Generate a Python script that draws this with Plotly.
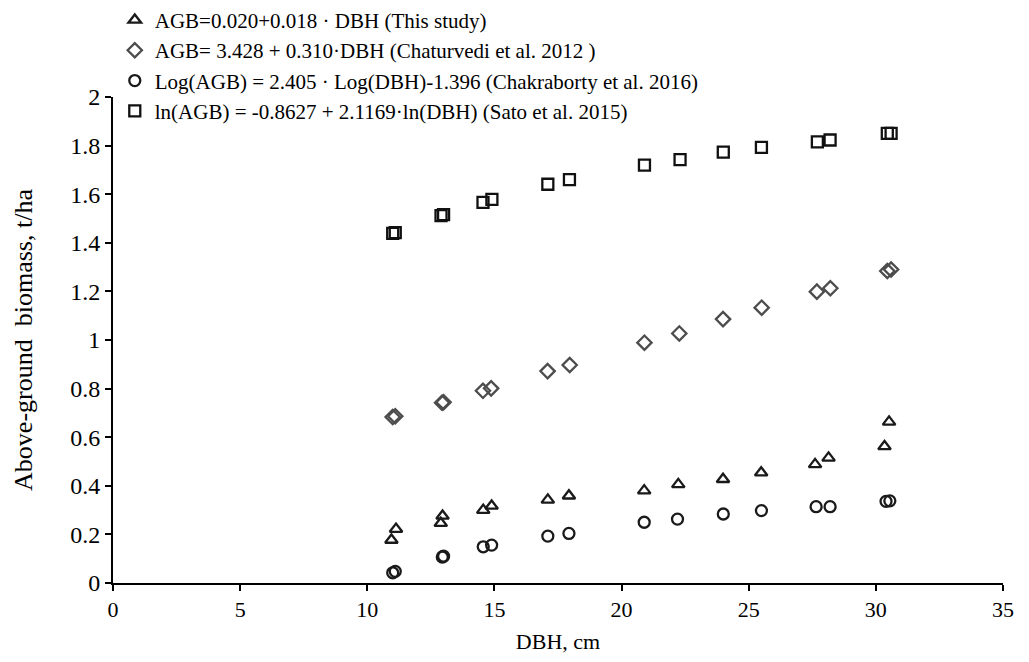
import plotly.graph_objects as go

tri_x = [10.95, 11.13, 12.89, 12.96, 14.56, 14.89, 17.1, 17.93, 20.89, 22.23, 23.99, 25.49, 27.61, 28.14, 30.34, 30.52]
tri_y = [0.177, 0.222, 0.246, 0.276, 0.300, 0.317, 0.342, 0.359, 0.380, 0.406, 0.427, 0.454, 0.488, 0.515, 0.562, 0.663]

dia_x = [11.0, 11.1, 12.94, 13.0, 14.55, 14.87, 17.09, 17.96, 20.9, 22.27, 23.99, 25.51, 27.68, 28.21, 30.45, 30.6]
dia_y = [0.683, 0.686, 0.742, 0.744, 0.791, 0.801, 0.872, 0.897, 0.989, 1.027, 1.086, 1.133, 1.199, 1.213, 1.284, 1.290]

cir_x = [11.0, 11.1, 12.95, 13.0, 14.56, 14.89, 17.1, 17.93, 20.89, 22.2, 24.0, 25.5, 27.65, 28.2, 30.4, 30.55]
cir_y = [0.042, 0.048, 0.107, 0.110, 0.149, 0.156, 0.193, 0.204, 0.250, 0.263, 0.284, 0.298, 0.314, 0.314, 0.336, 0.338]

sq_x = [11.0, 11.1, 12.9, 13.0, 14.55, 14.9, 17.1, 17.95, 20.9, 22.3, 24.0, 25.5, 27.7, 28.2, 30.45, 30.6]
sq_y = [1.439, 1.442, 1.512, 1.516, 1.566, 1.579, 1.641, 1.660, 1.720, 1.742, 1.773, 1.793, 1.815, 1.823, 1.850, 1.850]

names = [
    "AGB=0.020+0.018 · DBH (This study)",
    "AGB= 3.428 + 0.310·DBH (Chaturvedi et al. 2012 )",
    "Log(AGB) = 2.405 · Log(DBH)-1.396 (Chakraborty et al. 2016)",
    "ln(AGB) = -0.8627 + 2.1169·ln(DBH) (Sato et al. 2015)",
]

x_ticks = [0, 5, 10, 15, 20, 25, 30, 35]
y_ticks = [0, 0.2, 0.4, 0.6, 0.8, 1, 1.2, 1.4, 1.6, 1.8, 2]
y_ticktext = ["0", "0.2", "0.4", "0.6", "0.8", "1", "1.2", "1.4", "1.6", "1.8", "2"]

FONT = "Liberation Serif"

fig = go.Figure()
series = [
    (tri_x, tri_y, "triangle-up-open", 11, "#1a1a1a"),
    (dia_x, dia_y, "diamond-open", 11, "#4d4d4d"),
    (cir_x, cir_y, "circle-open", 11, "#1a1a1a"),
    (sq_x, sq_y, "square-open", 11, "#111111"),
]
for (x, y, sym, size, col), nm in zip(series, names):
    fig.add_trace(go.Scatter(
        x=x, y=y, mode="markers", name=nm,
        marker=dict(symbol=sym, size=size, color=col, line=dict(width=2.3, color=col)),
    ))

fig.update_layout(
    width=1029, height=662,
    margin=dict(l=105, r=34, t=89, b=87, autoexpand=False),
    paper_bgcolor="white", plot_bgcolor="white",
    font=dict(family=FONT, color="black", size=22),
    showlegend=True,
    legend=dict(
        x=0.002, y=1.2, xanchor="left", yanchor="top",
        font=dict(family=FONT, size=21, color="black"),
        bgcolor="rgba(0,0,0,0)", tracegroupgap=0, itemwidth=30,
    ),
    xaxis=dict(
        range=[0, 35], tickmode="array", tickvals=x_ticks, automargin=True,
        showgrid=False, zeroline=False, showline=True, linecolor="black", linewidth=2,
        ticks="outside", ticklen=6, tickwidth=1.5, tickcolor="black",
        tickfont=dict(family=FONT, size=22),
        title=dict(text="DBH, cm", font=dict(family=FONT, size=22), standoff=12),
    ),
    yaxis=dict(
        range=[0, 2], tickmode="array", tickvals=y_ticks, ticktext=y_ticktext, automargin=True,
        showgrid=False, zeroline=False, showline=True, linecolor="black", linewidth=2,
        ticks="outside", ticklen=6, tickwidth=1.5, tickcolor="black",
        tickfont=dict(family=FONT, size=24),
        title=dict(text="Above-ground  biomass, t/ha", font=dict(family=FONT, size=26), standoff=30),
    ),
)

fig.write_html("out.html")
